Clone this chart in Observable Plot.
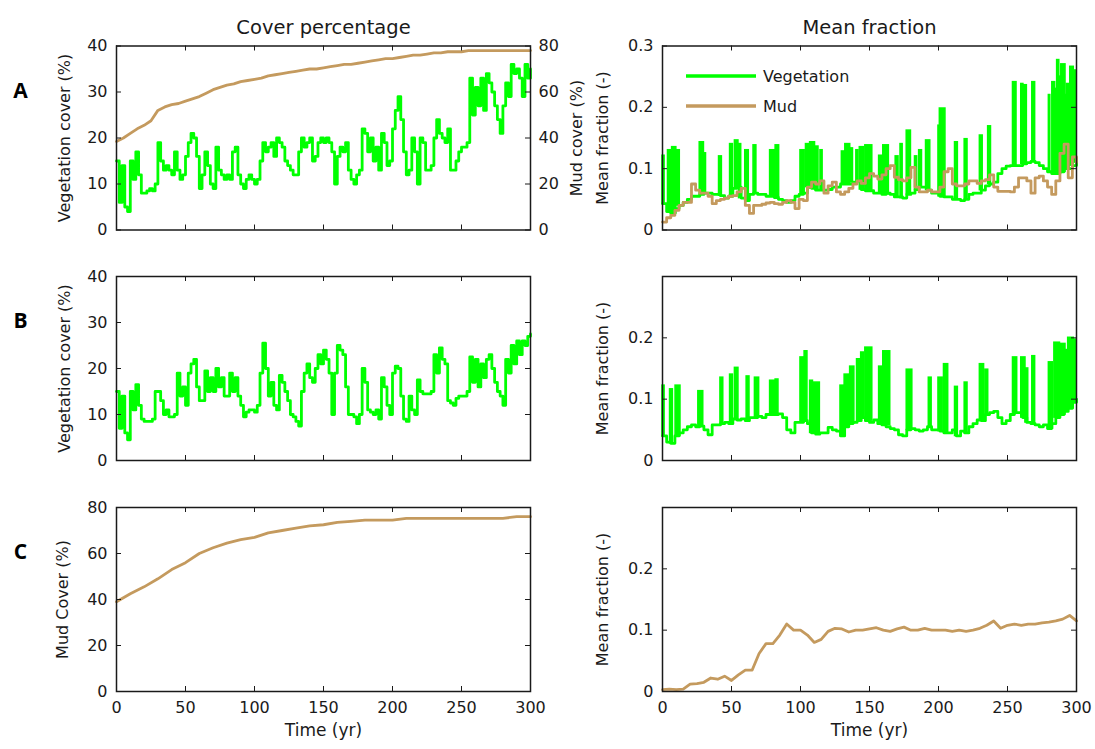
<!DOCTYPE html>
<html>
<head>
<meta charset="utf-8">
<script src="https://cdn.jsdelivr.net/npm/d3@7"></script>
<script src="https://cdn.jsdelivr.net/npm/@observablehq/plot@0.6"></script>
<style>
  html, body { margin: 0; padding: 0; background: #fff; }
  #root { position: relative; width: 1095px; height: 749px; overflow: hidden; background: #fff; }
  #root svg { position: absolute; left: 0; top: 0; }
</style>
</head>
<body>
<div id="root"></div>
<script>
// ---------------- data ----------------
const xTicks = [0, 50, 100, 150, 200, 250, 300];
const vegCoverTicks = [0, 10, 20, 30, 40];
const mudCoverTicks = [0, 20, 40, 60, 80];
const fracTicksA = [0, 0.1, 0.2, 0.3];
const fracTicksBC = [0, 0.1, 0.2];

// Panel A, vegetation cover (%), every 2 yr
const vegCoverA = [
  15, 6, 14, 5, 4, 15, 11, 17, 12, 8,
  8, 8.5, 9, 8.5, 10, 19, 15, 13, 14, 13,
  12, 17, 13, 11, 12, 16, 19, 21, 20, 16,
  9, 12, 17, 14, 10, 9, 18, 13, 12, 11,
  12, 11, 17, 18, 12, 10, 9, 11, 12, 11,
  10, 11, 15, 19, 17, 18, 19, 16, 20, 19,
  18, 15, 14, 13, 12, 12, 17, 20, 18, 19,
  20, 15, 16, 19, 20, 19, 20, 19, 17, 10,
  16, 18, 17, 19, 13, 11, 10, 12, 13, 22,
  21, 17, 20, 15, 18, 13, 21, 19, 14, 15,
  22, 26, 29, 24, 17, 12, 13, 20, 17, 10,
  20, 19, 13, 13, 14, 20, 24, 21, 20, 19,
  22, 13, 13, 15, 17, 18, 18, 19, 33, 25,
  31, 27, 33, 26, 34, 32, 30, 27, 24, 21,
  27, 32, 29, 36, 34, 35, 33, 29, 36, 33,
  35
];
// Panel A, mud cover (%), every 5 yr (right axis)
const mudCoverA = [
  38.5, 40, 42, 44, 45.5, 47.5, 52, 53.5, 54.5, 55,
  56, 57, 58, 59.5, 61, 62, 63, 63.5, 64.5, 65,
  65.5, 66, 67, 67.5, 68, 68.5, 69, 69.5, 70, 70,
  70.5, 71, 71.5, 72, 72, 72.5, 73, 73.5, 74, 74.5,
  74.5, 75, 75.5, 76, 76, 76.5, 77, 77, 77.5, 77.5,
  77.5, 78, 78, 78, 78, 78, 78, 78, 78, 78, 78
];
// Panel A, mean fraction of vegetation: baseline every 3 yr + spikes
const vegFracBaseA = [
  0.043, 0.03, 0.027, 0.035, 0.04, 0.045, 0.05, 0.055, 0.055, 0.058,
  0.06, 0.06, 0.058, 0.058, 0.056, 0.052, 0.055, 0.068, 0.07, 0.052,
  0.048, 0.058, 0.06, 0.058, 0.058, 0.055, 0.055, 0.053, 0.05, 0.048,
  0.045, 0.048, 0.055, 0.058, 0.06, 0.07, 0.068, 0.065, 0.065, 0.065,
  0.066, 0.07, 0.07, 0.075, 0.075, 0.075, 0.078, 0.08, 0.066, 0.064,
  0.064, 0.06, 0.06, 0.058, 0.06, 0.058, 0.054, 0.054, 0.052, 0.058,
  0.06, 0.066, 0.07, 0.07, 0.065, 0.06, 0.06, 0.055, 0.054, 0.054,
  0.05, 0.05, 0.048, 0.05, 0.058, 0.06, 0.06, 0.065, 0.072, 0.075,
  0.078, 0.092, 0.1, 0.104, 0.105, 0.105, 0.105, 0.108, 0.11, 0.112,
  0.11, 0.105, 0.1, 0.095, 0.092, 0.092, 0.095, 0.1, 0.1, 0.105,
  0.11
];
const spikeStartA = [0,4,7,10.5,27,30.5,41,49,52.5,55.5,60,66,78,82,100,104,107,111,114.5,130,132.5,136.5,140.5,143,147,157,160,169,172.5,177,183,186,191,200,201,212,219,230,236,254,260,262,268,280,282.5,284.5,286,287.5,289,292,293,295.5,298.5];
const spikeEndA   = [1.5,6.5,10,12.5,30,31.5,43,51,55,57,62.5,68,81.5,84.5,103,106.5,110.5,113,116,132,136,138,142,146,152,159,164,171,174,180,184.5,188,194,201,205,214,221,232,238,256.5,261.5,264,270,281,284.5,286,287.5,289,292,293,295,298,300];
const spikePeakA  = [0.121,0.13,0.135,0.13,0.143,0.125,0.12,0.14,0.146,0.14,0.13,0.138,0.13,0.138,0.13,0.14,0.143,0.136,0.13,0.128,0.14,0.133,0.13,0.135,0.138,0.121,0.138,0.12,0.14,0.162,0.12,0.13,0.146,0.17,0.198,0.143,0.148,0.154,0.169,0.241,0.238,0.236,0.241,0.22,0.241,0.23,0.277,0.25,0.27,0.22,0.238,0.266,0.26];
// Panel A, mean fraction of mud, every 3 yr
const mudFracA = [
  0.013, 0.02, 0.024, 0.032, 0.04, 0.045, 0.045, 0.075, 0.065, 0.06,
  0.06, 0.055, 0.043, 0.048, 0.05, 0.052, 0.055, 0.056, 0.062, 0.068,
  0.04, 0.027, 0.04, 0.04, 0.042, 0.044, 0.045, 0.043, 0.042, 0.045,
  0.048, 0.045, 0.035, 0.05, 0.048, 0.07, 0.078, 0.075, 0.08, 0.06,
  0.072, 0.078, 0.062, 0.058, 0.062, 0.068, 0.075, 0.08, 0.076, 0.085,
  0.092, 0.088, 0.083, 0.09, 0.1, 0.105, 0.086, 0.082, 0.08, 0.085,
  0.102, 0.07, 0.062, 0.062, 0.065, 0.062, 0.062, 0.07, 0.095, 0.1,
  0.075, 0.072, 0.072, 0.075, 0.08, 0.08, 0.076, 0.08, 0.082, 0.09,
  0.07, 0.063, 0.063, 0.063, 0.062, 0.07, 0.085, 0.085, 0.08, 0.06,
  0.085, 0.088, 0.08, 0.07, 0.058, 0.08, 0.125, 0.14, 0.085, 0.119,
  0.11
];

// Panel B, vegetation cover (%), every 2 yr
const vegCoverB = [
  15, 7, 14, 6, 4.5, 15, 11, 16.5, 12, 9,
  8.5, 8.5, 8.5, 9, 15, 15, 13, 10, 11, 9.5,
  9.5, 10, 19, 14, 16, 12, 19, 21, 22, 16,
  13, 13, 19.5, 15, 18, 15, 20, 16, 18, 14,
  14, 19, 15, 18, 14, 12, 9.5, 10.5, 11, 11,
  10.5, 12, 19, 25.5, 20, 14, 17, 12, 11, 18.5,
  17, 15, 13, 10, 9.5, 8.5, 7.5, 15, 19, 21,
  18, 17, 20, 23, 21, 24, 22, 19, 10, 19,
  25, 24, 23, 16, 10, 10, 9.5, 8, 10, 20,
  17, 11, 10.5, 10, 11, 9, 18, 16, 12, 10,
  19, 20.5, 20, 14, 9, 8.5, 14, 11, 10, 17.5,
  15, 14.5, 14.5, 14.5, 15, 23, 19, 24.5, 22, 21,
  13, 12.5, 12, 13.5, 14, 14, 14, 15, 22.5, 17,
  22, 16, 21, 18, 22, 23, 20, 17, 15, 14,
  12, 22, 19, 25, 21, 26, 23, 26, 25, 27,
  27.5
];
// Panel B, mean fraction of vegetation: baseline every 3 yr + spikes
const vegFracBaseB = [
  0.04, 0.03, 0.028, 0.04, 0.045, 0.05, 0.055, 0.058, 0.055, 0.056,
  0.05, 0.042, 0.058, 0.058, 0.06, 0.062, 0.06, 0.068, 0.066, 0.068,
  0.065, 0.07, 0.07, 0.072, 0.07, 0.075, 0.075, 0.075, 0.076, 0.07,
  0.05, 0.045, 0.062, 0.062, 0.065, 0.06, 0.045, 0.043, 0.045, 0.045,
  0.054, 0.05, 0.048, 0.04, 0.055, 0.06, 0.062, 0.065, 0.07, 0.065,
  0.062, 0.066, 0.06, 0.058, 0.055, 0.052, 0.05, 0.042, 0.04, 0.05,
  0.052, 0.05, 0.048, 0.05, 0.055, 0.05, 0.05, 0.048, 0.045, 0.045,
  0.05, 0.04, 0.048, 0.045, 0.055, 0.06, 0.066, 0.065, 0.075, 0.078,
  0.08, 0.07, 0.06, 0.065, 0.075, 0.078, 0.078, 0.07, 0.062, 0.06,
  0.058, 0.055, 0.058, 0.052, 0.06, 0.07, 0.075, 0.08, 0.085, 0.095,
  0.1
];
const spikeStartB = [0,5.5,9.5,26,42,49,52.5,61,67,78,82,100,103,107,109,129,132,136,141,144,147,157,160,177,193,200,204,212,219,230,234,254,260,263,268,280,284,288,292,294,298];
const spikeEndB   = [1.5,7.5,13,29.5,44,51,55,63,70,82,84,103,105,109,114,132,135,139,144,146,152,160,165,181,195,203,207,214,221,233,236,257,263,265,270,283,288,292,294,298,300];
const spikePeakB  = [0.122,0.116,0.122,0.113,0.135,0.14,0.151,0.137,0.135,0.13,0.132,0.168,0.178,0.13,0.127,0.122,0.14,0.153,0.165,0.176,0.184,0.153,0.178,0.148,0.135,0.135,0.157,0.12,0.127,0.157,0.148,0.168,0.168,0.15,0.17,0.16,0.192,0.19,0.18,0.2,0.197];

// Panel C, mud cover (%), every 10 yr
const mudCoverC = [
  39, 42.5, 45.5, 49, 53, 56, 60, 62.5, 64.5, 66,
  67, 69, 70, 71, 72, 72.5, 73.5, 74, 74.5, 74.5,
  74.5, 75.3, 75.3, 75.3, 75.3, 75.3, 75.3, 75.3, 75.3, 76, 76
];
// Panel C, mean fraction of mud, every 5 yr
const mudFracC = [
  0.003, 0.004, 0.003, 0.004, 0.012, 0.013, 0.015, 0.022, 0.02, 0.025,
  0.018, 0.027, 0.035, 0.035, 0.062, 0.078, 0.078, 0.092, 0.11, 0.1,
  0.1, 0.092, 0.08, 0.085, 0.098, 0.103, 0.102, 0.097, 0.1, 0.1,
  0.102, 0.104, 0.1, 0.098, 0.102, 0.105, 0.1, 0.1, 0.103, 0.1,
  0.1, 0.1, 0.098, 0.1, 0.098, 0.1, 0.103, 0.108, 0.115, 0.103,
  0.108, 0.11, 0.108, 0.11, 0.11, 0.112, 0.113, 0.115, 0.118, 0.124,
  0.115
];

// ---------------- helpers ----------------
const GREEN = "#00ff00", MUD = "#c49a5e", INK = "#1a1a1a";
const FONT = "'DejaVu Sans', Verdana, sans-serif";
const COLS = [[116, 530], [662, 1076]];
const ROWS = [[45.5, 229.5], [276, 460], [507, 691]];
const W = 1095, H = 749;
const LW = 2.8;
const VEG_PER_MUD = 40 / 80; // right axis of panel A: 0–80 % mud on the 0–40 % scale

function series(values, step) { return values.map((v, i) => ({t: i * step, v})); }
function spikes(starts, ends, peaks, base, step) {
  return starts.map((s, i) => ({
    x1: s, x2: ends[i],
    y1: base[Math.min(base.length - 1, Math.round(s / step))],
    y2: peaks[i]
  }));
}

const root = document.getElementById("root");

function vlabel(txt, anchor, dx) {
  return Plot.text([txt], {text: d => d, frameAnchor: anchor, dx, rotate: -90, textAnchor: "middle",
    lineAnchor: "middle", fontSize: 16, fill: INK});
}

function panel(col, row, cfg) {
  const [xl, xr] = COLS[col], [yt, yb] = ROWS[row];
  const fw = xr - xl, fh = yb - yt;
  const rightTicks = cfg.rightTicks || cfg.yTicks;
  const marks = [
    ...cfg.marks,
    Plot.ruleX(xTicks, {x: d => d, stroke: INK, strokeWidth: 1, insetTop: fh - 5}),
    Plot.ruleX(xTicks, {x: d => d, stroke: INK, strokeWidth: 1, insetBottom: fh - 5}),
    Plot.ruleY(cfg.yTicks, {y: d => d, stroke: INK, strokeWidth: 1, insetRight: fw - 5}),
    Plot.ruleY(rightTicks, {y: d => d, stroke: INK, strokeWidth: 1, insetLeft: fw - 5}),
    Plot.frame({stroke: INK, strokeWidth: 1.5}),
    Plot.axisY(cfg.yTicks, {anchor: "left", tickSize: 0, tickPadding: 9, label: null, tickFormat: d => String(d), fill: INK}),
    vlabel(cfg.ylabel, "left", cfg.ylabelDx),
    ...(cfg.extra || [])
  ];
  if (row === 2) {
    marks.push(
      Plot.axisX(xTicks, {anchor: "bottom", tickSize: 0, tickPadding: 10, label: null, tickFormat: d => String(d), fill: INK}),
      Plot.text(["Time (yr)"], {text: d => d, frameAnchor: "bottom", dy: 44, textAnchor: "middle", fontSize: 17, fill: INK})
    );
  }
  const svg = Plot.plot({
    width: W, height: H,
    marginLeft: xl, marginRight: W - xr, marginTop: yt, marginBottom: H - yb,
    x: {domain: [0, 300], axis: null},
    y: {domain: cfg.yDomain, axis: null},
    style: {background: "transparent", fontFamily: FONT, fontSize: "16px", color: INK, overflow: "visible", maxWidth: "none"},
    marks
  });
  root.appendChild(svg);
}

function letter(ch) {
  return Plot.text([ch], {text: d => d, frameAnchor: "left", dx: -96, dy: -47, textAnchor: "middle", fontSize: 21, fontWeight: "bold",
    fontFamily: "'Open Sans', 'Liberation Sans', sans-serif", fill: "#000"});
}
function title(txt) {
  return Plot.text([txt], {text: d => d, frameAnchor: "top", dy: -26, textAnchor: "middle", fontSize: 19.5, fill: INK});
}

// ---------------- panels ----------------
// A – cover percentage (dual axis)
panel(0, 0, {
  yDomain: [0, 40], yTicks: vegCoverTicks,
  rightTicks: mudCoverTicks.map(m => m * VEG_PER_MUD),
  ylabel: "Vegetation cover (%)", ylabelDx: -52,
  marks: [
    Plot.line(series(vegCoverA, 2), {x: "t", y: "v", stroke: GREEN, strokeWidth: LW, curve: "step-after"}),
    Plot.line(series(mudCoverA, 5), {x: "t", y: d => d.v * VEG_PER_MUD, stroke: MUD, strokeWidth: LW})
  ],
  extra: [
    Plot.axisY(mudCoverTicks.map(m => m * VEG_PER_MUD), {anchor: "right", tickSize: 0, tickPadding: 8, label: null,
      tickFormat: d => String(Math.round(d / VEG_PER_MUD)), fill: INK}),
    vlabel("Mud cover (%)", "right", 46),
    title("Cover percentage"),
    letter("A")
  ]
});

// A – mean fraction
panel(1, 0, {
  yDomain: [0, 0.3], yTicks: fracTicksA,
  ylabel: "Mean fraction (-)", ylabelDx: -60,
  marks: [
    Plot.rect(spikes(spikeStartA, spikeEndA, spikePeakA, vegFracBaseA, 3),
      {x1: "x1", x2: "x2", y1: "y1", y2: "y2", fill: GREEN, stroke: GREEN, strokeWidth: 1.6}),
    Plot.line(series(vegFracBaseA, 3), {x: "t", y: "v", stroke: GREEN, strokeWidth: LW, curve: "step-after"}),
    Plot.line(series(mudFracA, 3), {x: "t", y: "v", stroke: MUD, strokeWidth: LW, curve: "step-after"})
  ],
  extra: [title("Mean fraction")]
});

// B – cover percentage
panel(0, 1, {
  yDomain: [0, 40], yTicks: vegCoverTicks,
  ylabel: "Vegetation cover (%)", ylabelDx: -52,
  marks: [
    Plot.line(series(vegCoverB, 2), {x: "t", y: "v", stroke: GREEN, strokeWidth: LW, curve: "step-after"})
  ],
  extra: [letter("B")]
});

// B – mean fraction
panel(1, 1, {
  yDomain: [0, 0.3], yTicks: fracTicksBC,
  ylabel: "Mean fraction (-)", ylabelDx: -60,
  marks: [
    Plot.rect(spikes(spikeStartB, spikeEndB, spikePeakB, vegFracBaseB, 3),
      {x1: "x1", x2: "x2", y1: "y1", y2: "y2", fill: GREEN, stroke: GREEN, strokeWidth: 1.6}),
    Plot.line(series(vegFracBaseB, 3), {x: "t", y: "v", stroke: GREEN, strokeWidth: LW, curve: "step-after"})
  ]
});

// C – cover percentage
panel(0, 2, {
  yDomain: [0, 80], yTicks: mudCoverTicks,
  ylabel: "Mud Cover (%)", ylabelDx: -54,
  marks: [
    Plot.line(series(mudCoverC, 10), {x: "t", y: "v", stroke: MUD, strokeWidth: LW})
  ],
  extra: [letter("C")]
});

// C – mean fraction
panel(1, 2, {
  yDomain: [0, 0.3], yTicks: fracTicksBC,
  ylabel: "Mean fraction (-)", ylabelDx: -60,
  marks: [
    Plot.line(series(mudFracC, 5), {x: "t", y: "v", stroke: MUD, strokeWidth: LW})
  ]
});

// ---------------- legend (panel A, mean fraction) ----------------
const legendItems = [{label: "Vegetation", color: GREEN}, {label: "Mud", color: MUD}];
const lg = d3.select(root).append("svg")
  .attr("width", W).attr("height", H)
  .style("position", "absolute").style("left", "0px").style("top", "0px")
  .attr("font-family", FONT).attr("font-size", 16);
const items = lg.selectAll("g").data(legendItems).join("g")
  .attr("transform", (d, i) => `translate(686, ${76 + i * 30})`);
items.append("line").attr("x1", 0).attr("x2", 70).attr("y1", 0).attr("y2", 0)
  .attr("stroke", d => d.color).attr("stroke-width", 3.5);
items.append("text").attr("x", 77).attr("y", 0).attr("dy", "0.35em").attr("fill", INK).text(d => d.label);
</script>
</body>
</html>
